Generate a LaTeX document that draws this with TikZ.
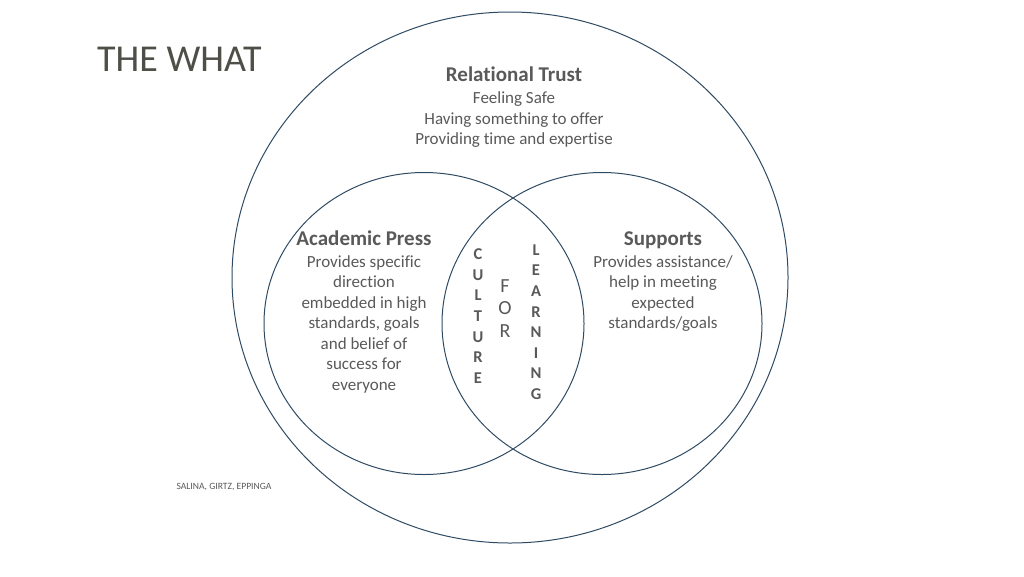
\documentclass[tikz,border=0pt]{standalone}
\usepackage{fontspec}
\setmainfont{Carlito}[RawFeature=-liga]
\usepackage{tikz}
\usetikzlibrary{positioning}
\definecolor{RingBlue}{HTML}{2F4B63}
\definecolor{TextGray}{HTML}{595959}
\definecolor{TitleGray}{HTML}{4F4F47}

\begin{document}
\begin{tikzpicture}[x=1pt, y=1pt, every node/.style={align=center, text=TextGray, inner sep=0pt},
  ring/.style={draw=RingBlue, line width=1pt},
  heading/.style={font=\fontsize{21}{24}\selectfont\bfseries, anchor=base, text depth=0pt},
  body/.style={font=\fontsize{17}{20.5}\selectfont},
  letters/.style={font=\fontsize{16.5}{20.6}\selectfont\bfseries}]
  \useasboundingbox (0,0) rectangle (1024,-576);
  \draw[ring] (510,-277.5) ellipse [x radius=278pt, y radius=265.5pt];
  \draw[ring] (424,-323.5) ellipse [x radius=160pt, y radius=151pt];
  \draw[ring] (602,-323.5) ellipse [x radius=160pt, y radius=151pt];
  \node[anchor=base west, text=TitleGray, font=\fontsize{38}{44}\selectfont] (title) at (97,-71.7) {THE WHAT};
  \node[heading] (trust) at (514,-81.5) {Relational Trust};
  \node[body, below=10pt of trust] (trustlines) {Feeling Safe\\Having something to offer\\Providing time and expertise};
  \node[heading] (press) at (364,-245) {Academic Press};
  \node[body, below=10pt of press] (presslines) {Provides specific\\direction\\embedded in high\\standards, goals\\and belief of\\success for\\everyone};
  \node[heading] (supports) at (663,-245) {Supports};
  \node[body, below=10pt of supports] (supportlines) {Provides assistance/\\help in meeting\\expected\\standards/goals};
  \node[letters] (culture) at (478,-316) {C\\U\\L\\T\\U\\R\\E};
  \node[font=\fontsize{20}{22.5}\selectfont] (for) at (505,-308.5) {F\\O\\R};
  \node[letters] (learning) at (536,-322) {L\\E\\A\\R\\N\\I\\N\\G};
  \node[font=\fontsize{9.6}{11}\selectfont] (authors) at (224,-487) {SALINA, GIRTZ, EPPINGA};
\end{tikzpicture}
\end{document}
